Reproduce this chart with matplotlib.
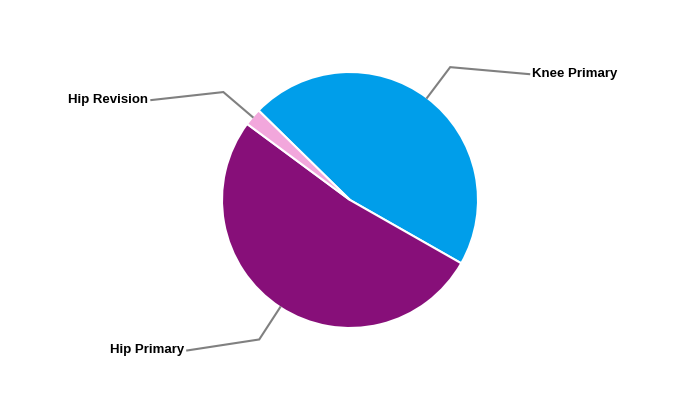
import numpy as np
import matplotlib
matplotlib.use("Agg")
import matplotlib.pyplot as plt

categories = ["Knee Primary", "Hip Primary", "Hip Revision"]
values = [45.9, 51.9, 2.2]
colors = ["#009EEA", "#870F79", "#F2A7DC"]

W, H = 700, 400
fig = plt.figure(figsize=(7, 4), dpi=100)
ax = fig.add_axes([0, 0, 1, 1])

cx, cy, R = 350, 200, 128
start = 135.6
wedges, _ = ax.pie(values, colors=colors, startangle=start, counterclock=False,
                   center=(cx, cy), radius=R, frame=True,
                   wedgeprops=dict(edgecolor="white", linewidth=1.5))
ax.set_xlim(0, W)
ax.set_ylim(0, H)
ax.axis("off")

# label layout: vertical drop and length of end segment
drops = {"Knee Primary": 7, "Hip Primary": 11, "Hip Revision": 8}
lens = {"Knee Primary": 79, "Hip Primary": 72, "Hip Revision": 72}
for w, name in zip(wedges, categories):
    mid = np.deg2rad((w.theta1 + w.theta2) / 2)
    x0, y0 = cx + R * np.cos(mid), cy + R * np.sin(mid)
    x1, y1 = cx + 1.3 * R * np.cos(mid), cy + 1.3 * R * np.sin(mid)
    side = 1 if np.cos(mid) > 0 else -1
    x2, y2 = x1 + side * lens[name], y1 - drops[name]
    ax.plot([x0, x1, x2], [y0, y1, y2], color="#808080", lw=1.5,
            solid_joinstyle="miter")
    ax.text(x2 + side * 3, y2, name, ha="left" if side > 0 else "right",
            va="center", fontsize=9.5, fontweight="bold",
            family="Liberation Sans", color="black")

fig.savefig("out.png", dpi=100)
